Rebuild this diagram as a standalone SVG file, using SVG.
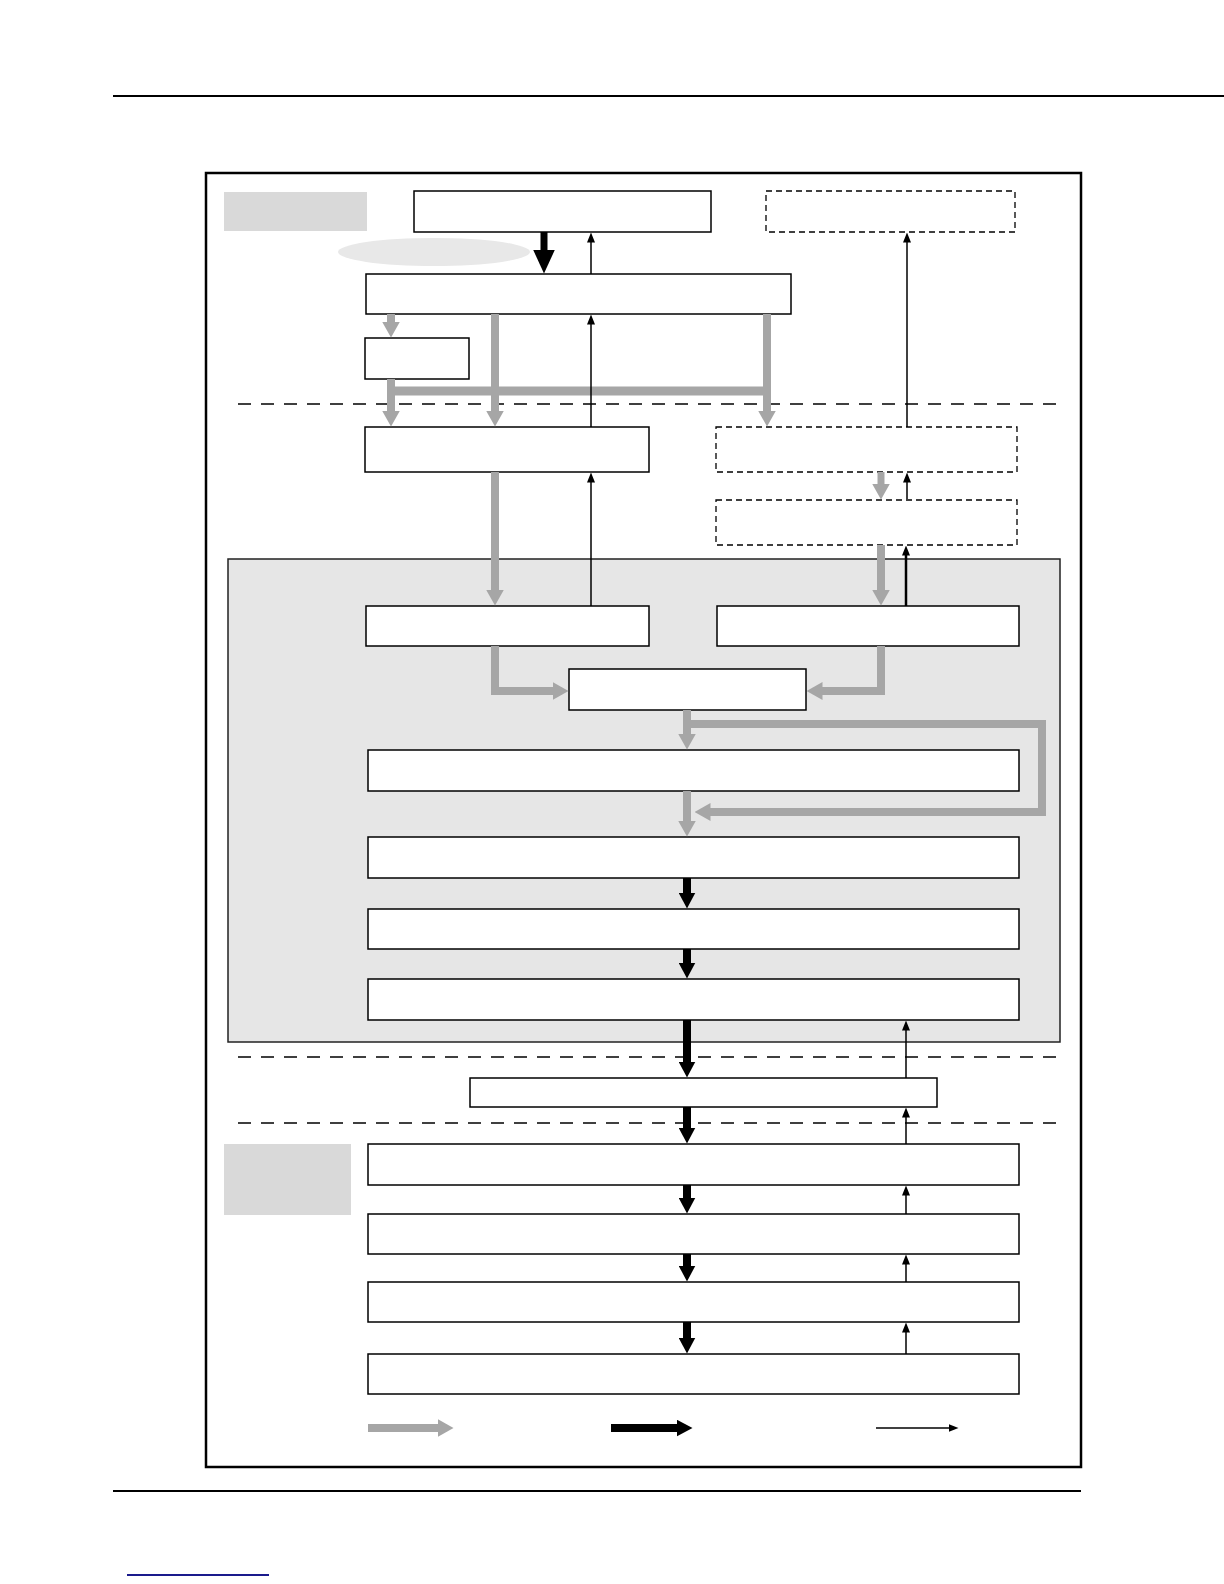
<svg xmlns="http://www.w3.org/2000/svg" width="1224" height="1584" viewBox="0 0 1224 1584">
<style>
.box{fill:#fff;stroke:#000;stroke-width:1.5}
.dbox{fill:#fff;stroke:#000;stroke-width:1.3;stroke-dasharray:6 4}
.sep{stroke:#000;stroke-width:1.5;stroke-dasharray:13 10;fill:none}
.g{stroke:#a6a6a6;stroke-width:8;fill:none;stroke-linejoin:miter}
.k{stroke:#000;stroke-width:8;fill:none}
.t{stroke:#000;stroke-width:1.5;fill:none}
</style>
<defs>
<marker id="gh" markerUnits="userSpaceOnUse" viewBox="0 -9 16 18" markerWidth="16" markerHeight="18" refX="0.5" refY="0" orient="auto"><path d="M0,-9 L16,0 L0,9 z" fill="#a6a6a6"/></marker>
<marker id="kh" markerUnits="userSpaceOnUse" viewBox="0 -8.5 16 17" markerWidth="16" markerHeight="17" refX="0.5" refY="0" orient="auto"><path d="M0,-8.5 L16,0 L0,8.5 z" fill="#000"/></marker>
<marker id="kb" markerUnits="userSpaceOnUse" viewBox="0 -11 24 22" markerWidth="24" markerHeight="22" refX="0.5" refY="0" orient="auto"><path d="M0,-11 L24,0 L0,11 z" fill="#000"/></marker>
<marker id="th" markerUnits="userSpaceOnUse" viewBox="0 -4 10 8" markerWidth="10" markerHeight="8" refX="0.5" refY="0" orient="auto"><path d="M0,-4 L10,0 L0,4 z" fill="#000"/></marker>
</defs>
<rect width="1224" height="1584" fill="#fff"/>
<line x1="113" y1="96" x2="1224" y2="96" stroke="#000" stroke-width="2"/>
<line x1="113" y1="1491" x2="1081" y2="1491" stroke="#000" stroke-width="2"/>
<line x1="127" y1="1575" x2="269" y2="1575" stroke="#1a1a8c" stroke-width="2"/>
<rect x="206" y="173" width="875" height="1294" fill="none" stroke="#000" stroke-width="2.5"/>
<g id="region"><rect x="228" y="559" width="832" height="483" fill="#e6e6e6" stroke="#222" stroke-width="1.5"/></g>
<g id="label1"><rect x="224" y="192" width="143" height="39" fill="#d9d9d9"/></g>
<g id="label2"><rect x="224" y="1144" width="127" height="71" fill="#d9d9d9"/></g>
<g id="ellipse"><ellipse cx="434" cy="252" rx="96" ry="14" fill="#e8e8e8"/></g>
<g id="separators">
<line class="sep" x1="238" y1="404" x2="1058" y2="404"/>
<line class="sep" x1="238" y1="1057" x2="1058" y2="1057"/>
<line class="sep" x1="238" y1="1123" x2="1058" y2="1123"/>
</g>
<g id="nodeA"><rect class="box" x="414" y="191" width="297" height="41"/></g>
<g id="nodeF"><rect class="dbox" x="766" y="191" width="249" height="41"/></g>
<g id="nodeB"><rect class="box" x="366" y="274" width="425" height="40"/></g>
<g id="nodeC"><rect class="box" x="365" y="338" width="104" height="41"/></g>
<g id="nodeD"><rect class="box" x="365" y="427" width="284" height="45"/></g>
<g id="nodeE"><rect class="dbox" x="716" y="427" width="301" height="45"/></g>
<g id="nodeE2"><rect class="dbox" x="716" y="500" width="301" height="45"/></g>
<g id="nodeG"><rect class="box" x="366" y="606" width="283" height="40"/></g>
<g id="nodeH"><rect class="box" x="717" y="606" width="302" height="40"/></g>
<g id="nodeI"><rect class="box" x="569" y="669" width="237" height="41"/></g>
<g id="nodeJ"><rect class="box" x="368" y="750" width="651" height="41"/></g>
<g id="nodeK"><rect class="box" x="368" y="837" width="651" height="41"/></g>
<g id="nodeL"><rect class="box" x="368" y="909" width="651" height="40"/></g>
<g id="nodeM"><rect class="box" x="368" y="979" width="651" height="41"/></g>
<g id="nodeN"><rect class="box" x="470" y="1078" width="467" height="29"/></g>
<g id="nodeO"><rect class="box" x="368" y="1144" width="651" height="41"/></g>
<g id="nodeP"><rect class="box" x="368" y="1214" width="651" height="40"/></g>
<g id="nodeQ"><rect class="box" x="368" y="1282" width="651" height="40"/></g>
<g id="nodeR"><rect class="box" x="368" y="1354" width="651" height="40"/></g>
<g id="connectors">
<path class="g" d="M391,314 L391,322" marker-end="url(#gh)"/>
<path class="g" d="M391,379 L391,411" marker-end="url(#gh)"/>
<path class="g" d="M387,391 L771,391" style="stroke-width:9"/>
<path class="g" d="M495,314 L495,411" marker-end="url(#gh)"/>
<path class="g" d="M767,314 L767,411" marker-end="url(#gh)"/>
<path class="g" d="M495,472 L495,590" marker-end="url(#gh)"/>
<path class="g" d="M881,472 L881,484" style="stroke-width:7" marker-end="url(#gh)"/>
<path class="g" d="M881,545 L881,590" marker-end="url(#gh)"/>
<path class="g" d="M495,646 L495,691 L553,691" marker-end="url(#gh)"/>
<path class="g" d="M881,646 L881,691 L822,691" marker-end="url(#gh)"/>
<path class="g" d="M687,710 L687,734" marker-end="url(#gh)"/>
<path class="g" d="M687,724 L1042,724 L1042,812 L710,812" marker-end="url(#gh)"/>
<path class="g" d="M687,791 L687,821" marker-end="url(#gh)"/>
<path class="k" d="M544,232 L544,250" style="stroke-width:7" marker-end="url(#kb)"/>
<path class="k" d="M687,878 L687,893" marker-end="url(#kh)"/>
<path class="k" d="M687,949 L687,963" marker-end="url(#kh)"/>
<path class="k" d="M687,1020 L687,1062" marker-end="url(#kh)"/>
<path class="k" d="M687,1107 L687,1128" marker-end="url(#kh)"/>
<path class="k" d="M687,1185 L687,1198" marker-end="url(#kh)"/>
<path class="k" d="M687,1254 L687,1266" marker-end="url(#kh)"/>
<path class="k" d="M687,1322 L687,1338" marker-end="url(#kh)"/>
<path class="t" d="M591,274 L591,242" marker-end="url(#th)"/>
<path class="t" d="M591,427 L591,324" marker-end="url(#th)"/>
<path class="t" d="M907,427 L907,242" marker-end="url(#th)"/>
<path class="t" d="M907,499 L907,482" marker-end="url(#th)"/>
<path class="t" d="M906,606 L906,555" style="stroke-width:2.5" marker-end="url(#th)"/>
<path class="t" d="M591,606 L591,482" marker-end="url(#th)"/>
<path class="t" d="M906,1078 L906,1030" marker-end="url(#th)"/>
<path class="t" d="M906,1144 L906,1117" marker-end="url(#th)"/>
<path class="t" d="M906,1214 L906,1195" marker-end="url(#th)"/>
<path class="t" d="M906,1282 L906,1264" marker-end="url(#th)"/>
<path class="t" d="M906,1354 L906,1332" marker-end="url(#th)"/>
</g>
<g id="legend">
<path class="g" d="M368,1428 L438,1428" marker-end="url(#gh)"/>
<path class="k" d="M611,1428 L677,1428" marker-end="url(#kh)"/>
<path class="t" d="M876,1428 L949,1428" marker-end="url(#th)"/>
</g>
</svg>
